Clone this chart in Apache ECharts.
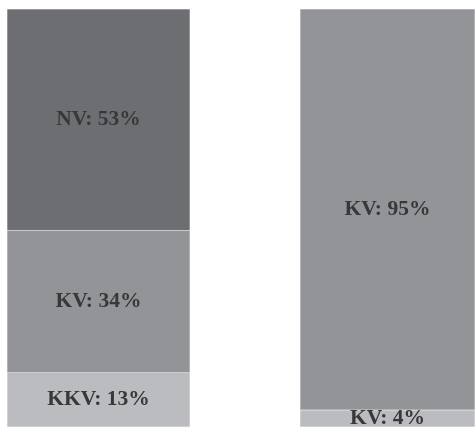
<!DOCTYPE html>
<html>
<head>
<meta charset="utf-8">
<script src="https://cdn.jsdelivr.net/npm/echarts@6/dist/echarts.min.js"></script>
<style>html,body{margin:0;padding:0;background:#fff;overflow:hidden;}#c{width:475px;height:427px;}</style>
</head>
<body>
<div id="c"></div>
<script>
// Left bar segments (bottom to top)
var leftNames = ['KKV', 'KV', 'NV'];
var leftValues = [13, 34, 53];
var leftColors = ['#bbbcbf', '#939498', '#6d6e72'];
// Right bar segments (bottom to top)
var rightNames = ['KV', 'KV'];
var rightValues = [4, 95];
var rightColors = ['#bbbcbf', '#939498'];

function sum(a){return a.reduce(function(s,v){return s+v;},0);}

var series = [];
function addBar(names, values, colors, idx){
  names.forEach(function(n, i){
    series.push({
      type: 'bar',
      name: n,
      stack: 's' + idx,
      xAxisIndex: idx,
      yAxisIndex: idx,
      barWidth: '100%',
      data: [values[i]],
      itemStyle: {color: colors[i], borderColor: 'rgba(255,255,255,0.12)', borderWidth: 0.5},
      label: {
        show: true,
        position: 'inside',
        formatter: function(p){ return n + ': ' + p.value + '%'; },
        fontFamily: 'Liberation Serif',
        fontWeight: 'bold',
        fontSize: 21.5,
        color: '#38383a'
      },
      silent: true
    });
  });
}
addBar(leftNames, leftValues, leftColors, 0);
addBar(rightNames, rightValues, rightColors, 1);

var chart = echarts.init(document.getElementById('c'));
chart.setOption({
  animation: false,
  grid: [
    {left: 7, top: 9, width: 183, height: 419},
    {left: 300, top: 9, width: 183, height: 419}
  ],
  xAxis: [
    {type: 'category', data: ['A'], gridIndex: 0, show: false},
    {type: 'category', data: ['B'], gridIndex: 1, show: false}
  ],
  yAxis: [
    {type: 'value', gridIndex: 0, min: 0, max: sum(leftValues), show: false},
    {type: 'value', gridIndex: 1, min: 0, max: sum(rightValues), show: false}
  ],
  series: series
});
</script>
</body>
</html>
